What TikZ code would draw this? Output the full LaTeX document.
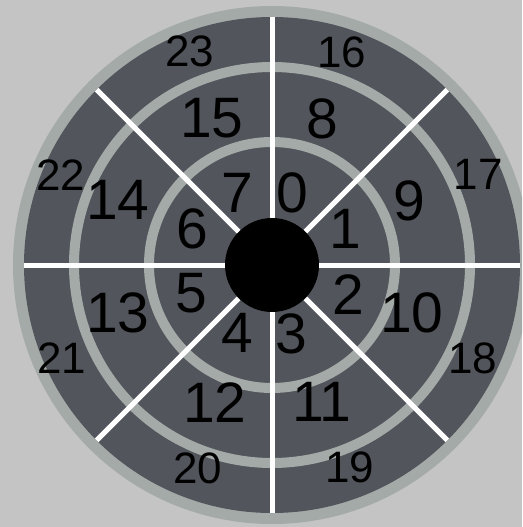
\documentclass[tikz,border=0pt]{standalone}
\usepackage{fontspec}
\setmainfont{Liberation Sans}
\usetikzlibrary{calc}
\definecolor{bgc}{RGB}{196,196,196}
\definecolor{ringc}{RGB}{164,170,167}
\definecolor{darkc}{RGB}{82,86,92}
\begin{document}
\begin{tikzpicture}[x=1pt,y=-1pt,
  outerlab/.style={font=\fontsize{44}{44}\selectfont, inner sep=0pt, text height=31.5pt, text depth=0pt},
  biglab/.style={font=\fontsize{57}{57}\selectfont, inner sep=0pt, text height=40.8pt, text depth=0pt},
  spoke/.style={white, line width=5pt},
  ringline/.style={ringc, line width=10pt}]
\useasboundingbox (0,0) rectangle (522,527);
\clip (0,0) rectangle (522,527);
\fill[bgc] (0,0) rectangle (522,527);
\coordinate (c) at (272,265);
\fill[ringc] (c) circle (259pt);
\fill[darkc] (c) circle (248pt);
\draw[ringline] (c) circle (198pt);
\draw[ringline] (c) circle (123pt);
\node[circle, fill=black, minimum size=94pt, inner sep=0pt] (hub) at (c) {};
\foreach \a in {0,45,...,315} {
  \coordinate (e\a) at ($(c)+(\a:248pt)$);
  \draw[spoke] (hub) -- (e\a);
}
% outer ring
\node[outerlab] (l23) at (190,51) {23};
\node[outerlab] (l16) at (342,52) {16};
\node[outerlab] (l17) at (478,174) {17};
\node[outerlab] (l18) at (473,358) {18};
\node[outerlab] (l19) at (350,467) {19};
\node[outerlab] (l20) at (198,468) {20};
\node[outerlab] (l21) at (62,358) {21};
\node[outerlab] (l22) at (61,175) {22};
% middle ring
\node[biglab] (l15) at (212,117) {15};
\node[biglab] (l8) at (322,118) {8};
\node[biglab] (l9) at (409,200) {9};
\node[biglab] (l10) at (412,312) {10};
\node[biglab] (l11) at (322,401) {11};
\node[biglab] (l12) at (215,402) {12};
\node[biglab] (l13) at (118,312) {13};
\node[biglab] (l14) at (118,199) {14};
% inner ring
\node[biglab] (l7) at (237,192) {7};
\node[biglab] (l0) at (292,192) {0};
\node[biglab] (l1) at (345,228) {1};
\node[biglab] (l2) at (348,294) {2};
\node[biglab] (l3) at (291,333) {3};
\node[biglab] (l4) at (237,332) {4};
\node[biglab] (l5) at (191,292) {5};
\node[biglab] (l6) at (192,228) {6};
\end{tikzpicture}
\end{document}
